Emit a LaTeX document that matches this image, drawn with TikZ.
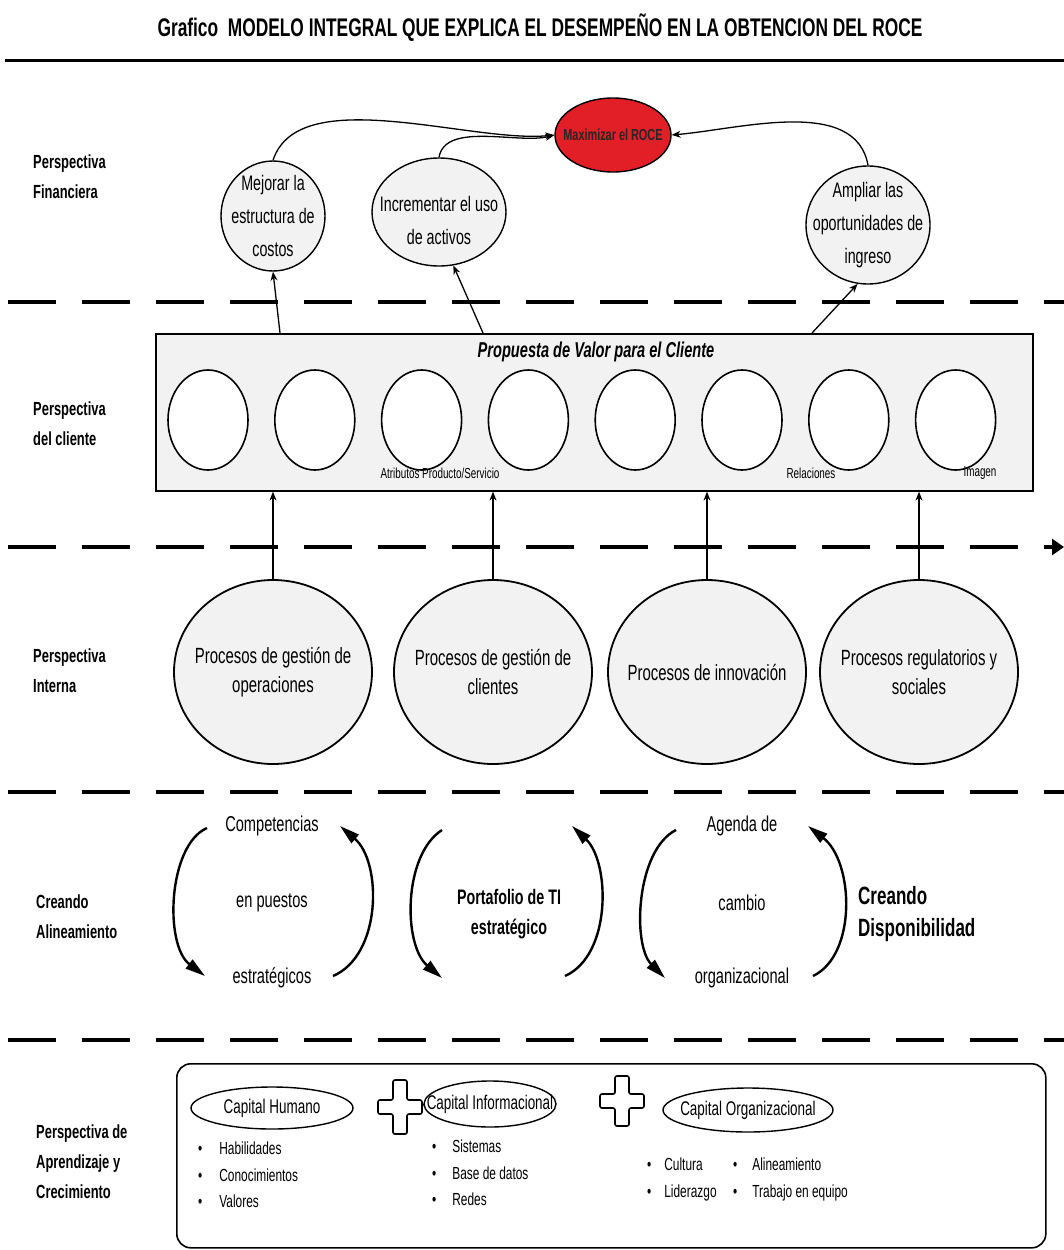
\documentclass[tikz,border=0pt]{standalone}
\usepackage{fontspec}
\setmainfont{Liberation Sans}[FakeStretch=0.68]
\usetikzlibrary{shapes.geometric,arrows.meta}
\definecolor{roce}{RGB}{226,30,38}
\definecolor{paper}{RGB}{242,242,242}
\newcommand{\fs}[2]{\fontsize{#1}{#2}\selectfont}

\begin{document}
\begin{tikzpicture}[x=1pt,y=1pt,
  sect/.style={font=\bfseries\fs{19}{30}, align=left, anchor=west, inner sep=0},
  goal/.style={ellipse, draw, line width=1.4pt, fill=paper, inner sep=0},
  goaltext/.style={align=center, font=\fs{21}{33}, inner sep=0},
  attr/.style={ellipse, draw, line width=1.6pt, fill=white, minimum width=80, minimum height=100, inner sep=0},
  proc/.style={ellipse, draw, line width=1.8pt, fill=paper, minimum width=198, minimum height=184, inner sep=0},
  proctext/.style={align=center, font=\fs{22}{29}, inner sep=0},
  sepline/.style={line width=4.5pt, dash pattern=on 48pt off 26pt},
  up/.style={-{Stealth[length=9pt,width=7pt]}, line width=1.3pt},
  loopline/.style={line width=2.4pt, -{Triangle[length=20pt,width=11pt]}},
  cycletext/.style={font=\fs{21.5}{24}, inner sep=0},
  capbox/.style={ellipse, draw, line width=1.4pt, fill=white, inner sep=0},
  captext/.style={font=\fs{19.8}{22}, inner sep=0},
  bullets/.style={anchor=north west, align=left, font=\fs{17.5}{26.5}, inner sep=0},
  plussign/.pic={
    \draw[line width=1.6pt, rounded corners=2pt, fill=white]
      (-7,#1) -- (7,#1) -- (7,7) -- (22,7) -- (22,-7) -- (7,-7) -- (7,-#1)
      -- (-7,-#1) -- (-7,-7) -- (-22,-7) -- (-22,7) -- (-7,7) -- cycle;
    \coordinate (-e) at (22,0);}
]
\useasboundingbox (0,0) rectangle (1064,-1250);

% title and rules
\node[font=\bfseries\fs{25.5}{28}] (title) at (540,-28)
  {Grafico\ \ MODELO INTEGRAL QUE EXPLICA EL DESEMPEÑO EN LA OBTENCION DEL ROCE};
\draw[line width=3pt] (5,-60) -- (1064,-60);
\draw[sepline] (8,-302) -- (1064,-302);
\draw[sepline, -{Triangle[length=12pt,width=16pt]}] (8,-547) -- (1064,-547);
\draw[sepline] (8,-792) -- (1064,-792);
\draw[sepline] (8,-1040) -- (1064,-1040);

% perspective labels
\node[sect] (sf) at (33,-177) {Perspectiva\\Financiera};
\node[sect] (sc) at (33,-424) {Perspectiva\\del cliente};
\node[sect] (si) at (33,-671) {Perspectiva\\Interna};
\node[sect] (sa) at (36,-917) {Creando\\Alineamiento};
\node[sect] (sl) at (36,-1162) {Perspectiva de\\Aprendizaje y\\Crecimiento};

% financial perspective
\node[ellipse, draw, line width=1.4pt, fill=roce, minimum width=116, minimum height=74, inner sep=0,
  label={[font=\bfseries\fs{16}{18}, text=black!85]center:Maximizar el ROCE}] (roce) at (613,-135) {};
\node[goal, minimum width=104, minimum height=110,
  label={[goaltext]center:{Mejorar la\\estructura de\\costos}}] (mej) at (273,-216) {};
\node[goal, minimum width=134, minimum height=108,
  label={[goaltext, yshift=-8pt]center:{Incrementar el uso\\de activos}}] (inc) at (439,-212) {};
\node[goal, minimum width=124, minimum height=118,
  label={[goaltext]center:{Ampliar las\\oportunidades de\\ingreso}}] (amp) at (868,-225) {};
\draw[up] (mej.north) to[out=72,in=186,looseness=0.75] (roce.west);
\draw[up] (inc.north) to[out=80,in=195,looseness=0.8] (roce.west);
\draw[up] (amp.north) to[out=100,in=5,looseness=0.9] (roce.east);

% customer perspective
\node[draw, line width=1.6pt, fill=paper, minimum width=877, minimum height=157,
  anchor=north west, inner sep=0] (cvp) at (155,-333) {};
\node[font=\bfseries\itshape\fs{21.5}{24}] (cvpt) at (596,-352) {Propuesta de Valor para el Cliente};
\foreach \i in {1,...,8}
  \node[attr] (a\i) at ({208+106.8*(\i-1)},-420) {};
\node[font=\fs{14.5}{16}] (lab1) at (440,-473) {Atributos Producto/Servicio};
\node[font=\fs{14.5}{16}] (lab2) at (811,-473) {Relaciones};
\node[font=\fs{14.5}{16}] (lab3) at (980,-473) {Imagen};
\draw[up] ([xshift=125pt]cvp.north west) -- (mej.south);
\draw[up] ([xshift=328pt]cvp.north west) -- (inc.-75);
\draw[up] ([xshift=657pt]cvp.north west) -- (amp.-100);

% internal perspective
\node[proc, label={[proctext]center:{Procesos de gestión de\\operaciones}}] (p1) at (273,-672) {};
\node[proc, label={[proctext]center:{Procesos de gestión de\\clientes}}] (p2) at (493,-672) {};
\node[proc, label={[proctext]center:{Procesos de innovación}}] (p3) at (707,-672) {};
\node[proc, label={[proctext]center:{Procesos regulatorios y\\sociales}}] (p4) at (919,-672) {};
\foreach \p in {p1,p2,p3,p4}
  \draw[up] (\p.north) -- (\p.north |- cvp.south);

% creating alignment
\node[cycletext] (k1a) at (272,-826) {Competencias};
\node[cycletext] (k1b) at (272,-903) {en puestos};
\node[cycletext] (k1c) at (272,-978) {estratégicos};
\node[cycletext, font=\bfseries\fs{21}{30}, align=center] (k2) at (509,-914) {Portafolio de TI\\estratégico};
\node[cycletext] (k3a) at (742,-826) {Agenda de};
\node[cycletext] (k3b) at (742,-903) {cambio};
\node[cycletext] (k3c) at (742,-978) {organizacional};
\node[sect, font=\bfseries\fs{25}{32}] (kd) at (858,-914) {Creando\\Disponibilidad};

\coordinate (l1s) at (207,-828);  \coordinate (l1e) at (205,-976);
\coordinate (r1s) at (333,-976);  \coordinate (r1e) at (340,-826);
\coordinate (l2s) at (442,-830);  \coordinate (l2e) at (442,-978);
\coordinate (r2s) at (565,-976);  \coordinate (r2e) at (572,-826);
\coordinate (l3s) at (676,-830);  \coordinate (l3e) at (665,-978);
\coordinate (r3s) at (813,-976);  \coordinate (r3e) at (808,-826);
\draw[loopline] (l1s) .. controls (168,-845) and (164,-945) .. (l1e);
\draw[loopline] (r1s) .. controls (382,-955) and (382,-862) .. (r1e);
\draw[loopline] (l2s) .. controls (403,-855) and (403,-945) .. (l2e);
\draw[loopline] (r2s) .. controls (612,-955) and (610,-862) .. (r2e);
\draw[loopline] (l3s) .. controls (636,-850) and (632,-945) .. (l3e);
\draw[loopline] (r3s) .. controls (857,-955) and (854,-862) .. (r3e);

% learning and growth
\node[draw, line width=1.6pt, rounded corners=14pt, minimum width=869, minimum height=184,
  anchor=north west, inner sep=0] (lg) at (176,-1063) {};
\node[capbox, minimum width=162, minimum height=42,
  label={[captext]center:Capital Humano}] (ch) at (272,-1108) {};
\node[capbox, minimum width=132, minimum height=46,
  label={[captext]center:Capital Informacional}] (ci) at (490,-1104) {};
\node[capbox, minimum width=170, minimum height=44,
  label={[captext]center:Capital Organizacional}] (co) at (748,-1110) {};
\pic (x1) at (400,-1107) {plussign=27};
\pic (x2) at (622,-1101) {plussign=25};
\draw[line width=1.6pt] (x1-e) -- (ci.west);

\node[bullets] (b1) at (198,-1142) {\textbullet\hspace{17pt}Habilidades\\\textbullet\hspace{17pt}Conocimientos\\\textbullet\hspace{17pt}Valores};
\node[bullets] (b2) at (432,-1140) {\textbullet\hspace{16pt}Sistemas\\\textbullet\hspace{16pt}Base de datos\\\textbullet\hspace{16pt}Redes};
\node[bullets] (b3) at (647,-1158) {\textbullet\hspace{13pt}Cultura\\\textbullet\hspace{13pt}Liderazgo};
\node[bullets] (b4) at (733,-1158) {\textbullet\hspace{15pt}Alineamiento\\\textbullet\hspace{15pt}Trabajo en equipo};
\end{tikzpicture}
\end{document}
